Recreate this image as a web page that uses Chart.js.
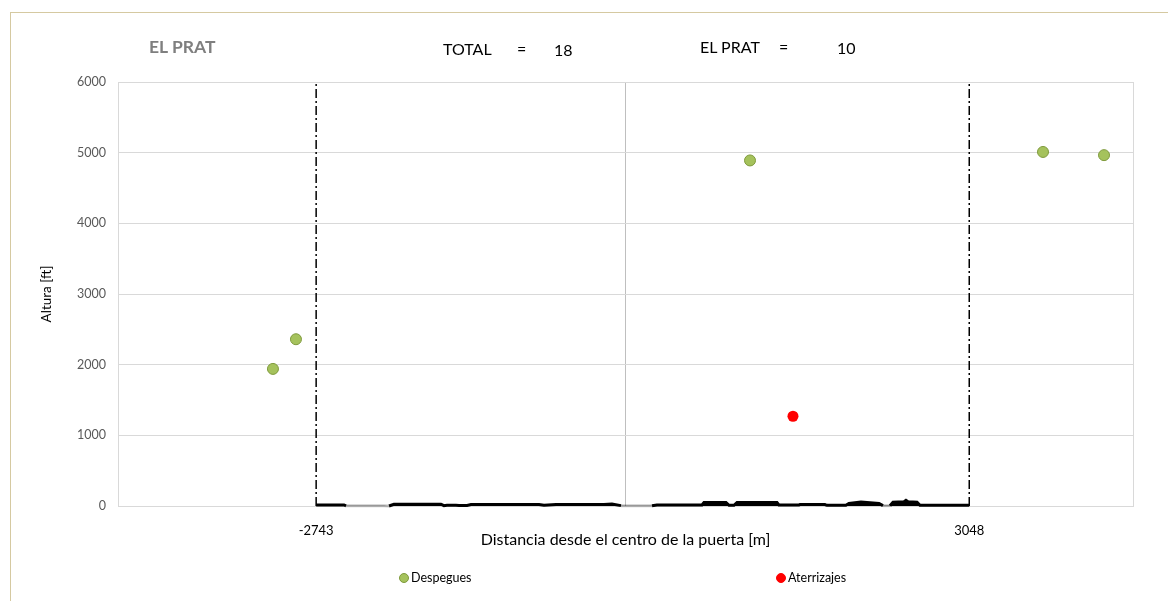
<!DOCTYPE html>
<html>
<head>
<meta charset="utf-8">
<script src="https://cdn.jsdelivr.net/npm/chart.js@4.4.1/dist/chart.umd.min.js"></script>
<style>
  html, body { margin: 0; padding: 0; background: #fff; }
  body { width: 1168px; height: 601px; position: relative; overflow: hidden; font-family: Lato, "Open Sans", sans-serif; }
  #marco { position: absolute; left: 10px; top: 12px; width: 1200px; height: 640px; border-top: 1px solid #d5c9a1; border-left: 1px solid #d5c9a1; }
  #grafico { position: absolute; left: 0; top: 0; }
  .txt { position: absolute; white-space: nowrap; color: #000; font-size: 16px; line-height: 1; }
  #titulo { left: 149px; top: 38px; font-size: 17.5px; font-weight: bold; color: #7f7f7f; }
  .leyenda { position: absolute; top: 571px; font-size: 12.5px; color: #000; white-space: nowrap; line-height: 14px; }
  .leyenda span { display: inline-block; width: 10px; height: 10px; border-radius: 50%; vertical-align: -1px; margin-right: 2px; box-sizing: border-box; }
</style>
</head>
<body>
<div id="marco"></div>
<canvas id="grafico" width="1168" height="601"></canvas>
<div class="txt" id="titulo">EL PRAT</div>
<div class="txt" style="left:443px; top:41px;">TOTAL</div>
<div class="txt" style="left:517px; top:41px;">=</div>
<div class="txt" style="left:554px; top:42px;">18</div>
<div class="txt" style="left:700px; top:39px;">EL PRAT</div>
<div class="txt" style="left:779px; top:39px;">=</div>
<div class="txt" style="left:837px; top:40px;">10</div>
<div id="leyendas"></div>
<script>
// Datos
const despeguesX = [-3126, -2922, 1104, 3702, 4243];
const despeguesY = [1940, 2360, 4890, 5010, 4965];
const aterrizajesX = [1485];
const aterrizajesY = [1270];

// Limites de la puerta y marcas del eje X
const limitesX = [-2743, 3048];
const ejeXTicks = [-4500, -2743, 0, 3048, 4500];

// Perfil del terreno (m, ft)
const terrenoX = [-2743, -2496, -2478, -2434, -2141, -2097, -2053, -1636, -1610, -1583, -1503, -1476, -1405, -1370, -767, -723, -616, -191, -120, -40, 235, 279, 678, 696, 891, 918, 962, 989, 1343, 1360, 1538, 1547, 1768, 1786, 1954, 1981, 2088, 2248, 2283, 2345, 2372, 2470, 2487, 2505, 2585, 2611, 3048];
const terrenoY = [15, 15, 3, 5, 5, 0, 25, 25, 5, 12, 12, 8, 8, 20, 20, 10, 20, 20, 28, 5, 3, 15, 15, 50, 50, 10, 10, 50, 50, 15, 15, 20, 20, 10, 10, 35, 55, 35, 5, 5, 55, 60, 80, 60, 55, 10, 10];

const fuente = 'Lato, "Open Sans", sans-serif';
const puntos = (xs, ys) => xs.map((x, i) => ({ x: x, y: ys[i] }));

const lineasLimite = limitesX.map(x => ({
    label: 'Limite ' + x,
    type: 'line',
    data: [{ x: x, y: 0 }, { x: x, y: 6000 }],
    borderColor: '#000',
    borderWidth: 1.5,
    borderDash: [9, 3, 2, 3],
    pointRadius: 0,
    fill: false,
    order: 1
}));

const chart = new Chart(document.getElementById('grafico'), {
    type: 'scatter',
    data: {
        datasets: [
            {
                label: 'Despegues',
                data: puntos(despeguesX, despeguesY),
                backgroundColor: '#a5c25c',
                borderColor: '#7f9a3c',
                borderWidth: 1,
                pointRadius: 5.5,
                order: 0
            },
            {
                label: 'Aterrizajes',
                data: puntos(aterrizajesX, aterrizajesY),
                backgroundColor: '#ff0000',
                borderColor: '#ff0000',
                borderWidth: 0,
                pointRadius: 5.5,
                order: 0
            },
            ...lineasLimite,
            {
                label: 'Terreno',
                type: 'line',
                data: puntos(terrenoX, terrenoY),
                borderColor: '#000',
                backgroundColor: '#000',
                borderWidth: 3,
                pointRadius: 0,
                fill: 'origin',
                clip: false,
                order: 2,
                segment: {
                    // tramos casi a nivel cero se ven claros
                    borderColor: c => (c.p0.parsed.y <= 5 && c.p1.parsed.y <= 5) ? 'rgba(0,0,0,0.2)' : undefined
                }
            }
        ]
    },
    options: {
        responsive: false,
        animation: false,
        layout: { padding: { left: 30, right: 35, top: 82, bottom: 50 } },
        plugins: {
            legend: { display: false },
            tooltip: { enabled: false }
        },
        scales: {
            x: {
                type: 'linear',
                min: -4500,
                max: 4500,
                afterFit: s => { s.height = 45; },
                afterBuildTicks: s => { s.ticks = ejeXTicks.map(v => ({ value: v })); },
                grid: {
                    drawTicks: false,
                    color: c => {
                        const v = c.tick ? c.tick.value : null;
                        if (v === 0) return '#bfbfbf';
                        if (v === -4500 || v === 4500) return '#d9d9d9';
                        return 'rgba(0,0,0,0)';
                    }
                },
                border: { color: '#d9d9d9' },
                ticks: {
                    autoSkip: false,
                    maxRotation: 0,
                    padding: 17,
                    color: '#000',
                    font: { family: fuente, size: 13 },
                    callback: v => limitesX.includes(v) ? String(v) : ''
                },
                title: {
                    display: true,
                    text: 'Distancia desde el centro de la puerta [m]',
                    color: '#000',
                    font: { family: fuente, size: 16 },
                    padding: { top: 0, bottom: 2 }
                }
            },
            y: {
                min: 0,
                max: 6000,
                afterFit: s => { s.width = 88; },
                grid: { color: '#d9d9d9', drawTicks: false },
                border: { color: '#d9d9d9' },
                ticks: {
                    stepSize: 1000,
                    padding: 12,
                    color: '#595959',
                    font: { family: fuente, size: 12.5 },
                    callback: v => String(v)
                },
                title: {
                    display: true,
                    text: 'Altura [ft]',
                    color: '#000',
                    font: { family: fuente, size: 13.5 },
                    padding: { top: 9, bottom: 0 }
                }
            }
        }
    }
});

// Leyenda (solo las series de puntos)
const leyendaX = [399, 776];
const cont = document.getElementById('leyendas');
chart.data.datasets.slice(0, 2).forEach((ds, i) => {
    const d = document.createElement('div');
    d.className = 'leyenda';
    d.style.left = leyendaX[i] + 'px';
    const m = document.createElement('span');
    m.style.background = ds.backgroundColor;
    m.style.border = '1px solid ' + ds.borderColor;
    d.appendChild(m);
    d.appendChild(document.createTextNode(ds.label));
    cont.appendChild(d);
});
</script>
</body>
</html>
